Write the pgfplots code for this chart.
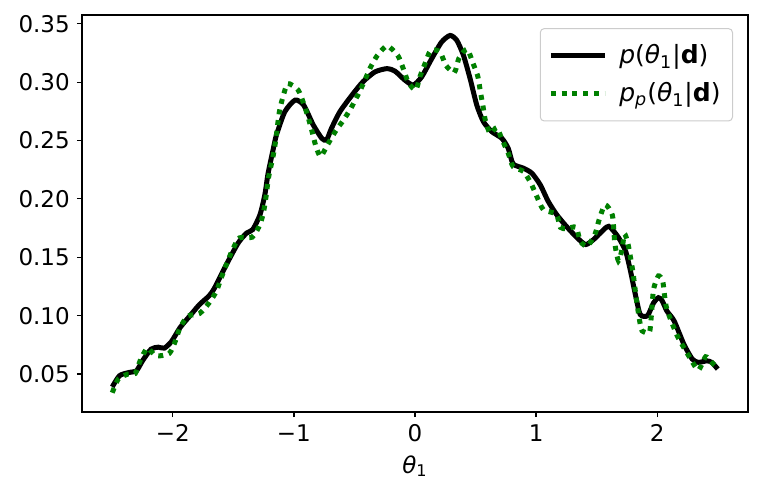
\documentclass[border=0pt]{standalone}
\usepackage{fontspec}
\setmainfont{DejaVu Sans}
\usepackage{pgfplots}
\pgfplotsset{compat=1.18}
\definecolor{mplgreen}{RGB}{0,128,0}

\begin{document}
\begin{tikzpicture}
\begin{axis}[
  scale only axis, width=333pt, height=198.5pt,
  xmin=-2.75, xmax=2.75, ymin=0.0175, ymax=0.3575,
  xtick={-2,-1,0,1,2}, xticklabels={−2,−1,0,1,2},
  ytick={0.05,0.10,0.15,0.20,0.25,0.30,0.35},
  yticklabels={0.05,0.10,0.15,0.20,0.25,0.30,0.35},
  tick align=outside, tick pos=left, major tick length=2.6pt,
  tick style={black, line width=0.6pt},
  axis line style={line width=0.6pt},
  tick label style={font=\fontsize{11.5}{14}\selectfont},
  xlabel={\textit{θ}\textsubscript{1}},
  label style={font=\fontsize{11.5}{14}\selectfont},
  legend cell align=left,
  legend style={at={(0.9775,0.967)}, anchor=north east,
    draw=black!20, rounded corners=2pt, line width=0.5pt,
    font=\fontsize{12.5}{15}\selectfont, row sep=4pt,
    inner xsep=4pt, inner ysep=6pt,
    /tikz/every odd column/.append style={column sep=4pt}},
  legend image code/.code={\draw[#1] (0pt,0pt) -- (27pt,0pt);},
]
\addplot[black, line width=2.5pt, smooth, tension=0.4] coordinates {
(-2.50,0.039) (-2.44,0.0486) (-2.36,0.0514) (-2.30,0.0528) (-2.25,0.0614)
(-2.18,0.0713) (-2.12,0.0730) (-2.07,0.0722) (-2.01,0.078) (-1.94,0.0898)
(-1.86,0.0997) (-1.78,0.1095) (-1.70,0.117) (-1.654,0.124) (-1.557,0.1439)
(-1.46,0.1623) (-1.39,0.1708) (-1.34,0.1737) (-1.28,0.1865) (-1.24,0.2036)
(-1.213,0.222) (-1.17,0.243) (-1.144,0.2548) (-1.075,0.2747) (-0.99,0.2846)
(-0.92,0.2804) (-0.84,0.2633) (-0.77,0.2519) (-0.73,0.2505) (-0.69,0.2604)
(-0.62,0.2747) (-0.52,0.2889) (-0.43,0.3003) (-0.33,0.3088) (-0.23,0.3116)
(-0.165,0.3094) (-0.083,0.3017) (-0.014,0.2975) (0.055,0.3045) (0.138,0.3201)
(0.22,0.3344) (0.29,0.340) (0.345,0.3358) (0.40,0.323) (0.455,0.303)
(0.51,0.2804) (0.565,0.2661) (0.634,0.2576) (0.717,0.2519) (0.77,0.2433)
(0.81,0.230) (0.896,0.2263) (0.965,0.222) (1.034,0.2121) (1.10,0.1979)
(1.17,0.1865) (1.25,0.1765) (1.34,0.1666) (1.41,0.1609) (1.475,0.1652)
(1.53,0.1708) (1.60,0.1765) (1.68,0.167) (1.74,0.155) (1.78,0.138)
(1.82,0.118) (1.86,0.101) (1.92,0.100) (1.97,0.111) (2.01,0.1154)
(2.04,0.113) (2.08,0.104) (2.14,0.0955) (2.22,0.0756) (2.29,0.0628)
(2.34,0.060) (2.41,0.0613) (2.45,0.060) (2.50,0.0543)
};
\addlegendentry{\textit{p}(\textit{θ}\textsubscript{1}|\textbf{d})}
\addplot[mplgreen, line width=2.5pt, dash pattern=on 2.5pt off 2.9pt, smooth, tension=0.4] coordinates {
(-2.50,0.034) (-2.45,0.0457) (-2.37,0.050) (-2.31,0.0505) (-2.27,0.0614)
(-2.21,0.0722) (-2.14,0.0656) (-2.03,0.0676) (-1.98,0.078) (-1.94,0.0898)
(-1.875,0.0997) (-1.78,0.1018) (-1.70,0.111) (-1.64,0.121) (-1.60,0.1324)
(-1.557,0.1439) (-1.51,0.1558) (-1.45,0.1666) (-1.345,0.1672) (-1.28,0.178)
(-1.25,0.1893) (-1.23,0.2021) (-1.21,0.218) (-1.17,0.2377) (-1.15,0.2505)
(-1.12,0.2747) (-1.09,0.2875) (-1.05,0.2988) (-0.965,0.2932) (-0.92,0.2818)
(-0.88,0.269) (-0.85,0.2576) (-0.82,0.2456) (-0.78,0.2363) (-0.72,0.2468)
(-0.655,0.2582) (-0.59,0.2676) (-0.53,0.2775) (-0.47,0.2894) (-0.42,0.3003)
(-0.37,0.3122) (-0.31,0.323) (-0.23,0.331) (-0.143,0.323) (-0.097,0.3116)
(-0.055,0.2997) (0.006,0.2932) (0.04,0.3045) (0.083,0.3159) (0.13,0.3273)
(0.207,0.3259) (0.254,0.3145) (0.325,0.3082) (0.364,0.3207) (0.43,0.3282)
(0.48,0.3159) (0.52,0.3045) (0.54,0.2917) (0.56,0.2804) (0.58,0.2676)
(0.62,0.2562) (0.675,0.261) (0.72,0.2505) (0.77,0.2391) (0.81,0.2277)
(0.896,0.2235) (0.957,0.2135) (1.006,0.2021) (1.06,0.1908) (1.166,0.187)
(1.20,0.1757) (1.25,0.1746) (1.33,0.1757) (1.365,0.1637) (1.425,0.1595)
(1.49,0.1708) (1.52,0.182) (1.57,0.195) (1.63,0.186) (1.65,0.162)
(1.68,0.147) (1.71,0.157) (1.73,0.170) (1.76,0.161) (1.80,0.137)
(1.83,0.1125) (1.86,0.0927) (1.875,0.087) (1.935,0.0855) (1.95,0.098)
(1.97,0.1225) (2.01,0.134) (2.045,0.130) (2.06,0.118) (2.08,0.1055)
(2.16,0.084) (2.22,0.0727) (2.27,0.064) (2.34,0.0534) (2.40,0.0648)
(2.45,0.060) (2.50,0.055)
};
\addlegendentry{\textit{p}\textsubscript{\textit{p}}(\textit{θ}\textsubscript{1}|\textbf{d})}
\end{axis}
\path (current axis.south west) ++(-41pt,-42pt);
\path (current axis.north east) ++(5.5pt,7.5pt);
\end{tikzpicture}
\end{document}
